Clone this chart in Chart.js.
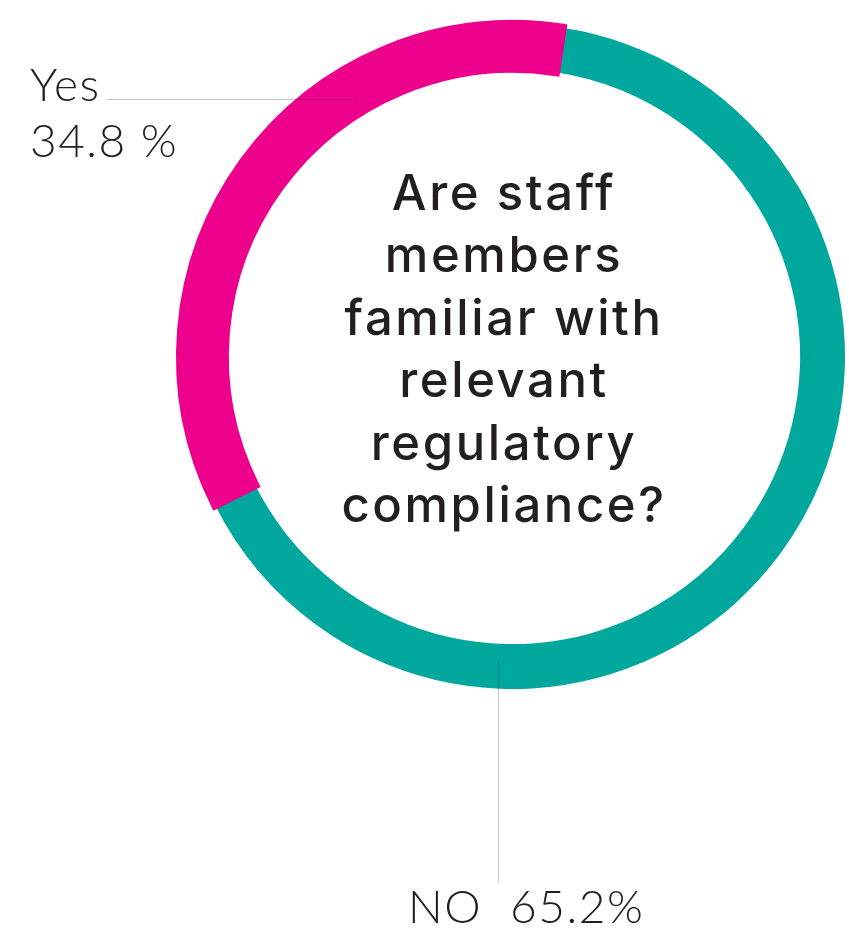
<!DOCTYPE html>
<html>
<head>
<meta charset="utf-8">
<script src="https://cdn.jsdelivr.net/npm/chart.js@4.4.1/dist/chart.umd.min.js"></script>
<style>
  html, body { margin: 0; padding: 0; background: #fff; }
  canvas { display: block; }
</style>
</head>
<body>
<canvas id="complianceChart" width="849" height="935"></canvas>
<script>
const answerLabels = ["NO", "Yes"];
const answerShares = [65.2, 34.8];
const ringColors = ["#00A79D", "#EC008C"];
const questionLines = ["Are staff", "members", "familiar with", "relevant", "regulatory", "compliance?"];

const textColor = "#231F20";
const leaderColor = "rgba(0, 0, 0, 0.22)";

// labels, leader lines and the question in the hole
const annotations = {
  id: "annotations",
  afterDraw(chart) {
    const ctx = chart.ctx;
    ctx.save();

    ctx.strokeStyle = leaderColor;
    ctx.lineWidth = 1;
    ctx.beginPath();
    ctx.moveTo(107, 99.5);
    ctx.lineTo(357, 99.5);
    ctx.moveTo(498.5, 662);
    ctx.lineTo(498.5, 883);
    ctx.stroke();

    ctx.fillStyle = textColor;
    ctx.textAlign = "left";
    ctx.textBaseline = "alphabetic";
    ctx.font = "300 46px Lato";
    ctx.letterSpacing = "1.5px";
    ctx.fillText(answerLabels[1], 30, 101);
    ctx.fillText(answerShares[1] + " %", 30, 157);
    ctx.fillText(answerLabels[0] + "  " + answerShares[0] + "%", 408, 923);

    ctx.font = "500 49px Inter";
    ctx.letterSpacing = "2.6px";
    ctx.textAlign = "center";
    questionLines.forEach((line, i) => {
      ctx.fillText(line, 504, 210 + i * 62.4);
    });
    ctx.restore();
  }
};

new Chart(document.getElementById("complianceChart"), {
  type: "doughnut",
  data: {
    labels: answerLabels,
    datasets: [{
      data: answerShares,
      backgroundColor: ringColors,
      borderColor: ringColors,
      borderWidth: [0, 8],
      borderJoinStyle: "miter"
    }]
  },
  options: {
    responsive: false,
    animation: false,
    rotation: 8.7,
    cutout: "86.5%",
    layout: { padding: { left: 176, right: 0, top: 20, bottom: 242 } },
    plugins: {
      legend: { display: false },
      tooltip: { enabled: false }
    }
  },
  plugins: [annotations]
});
</script>
</body>
</html>
